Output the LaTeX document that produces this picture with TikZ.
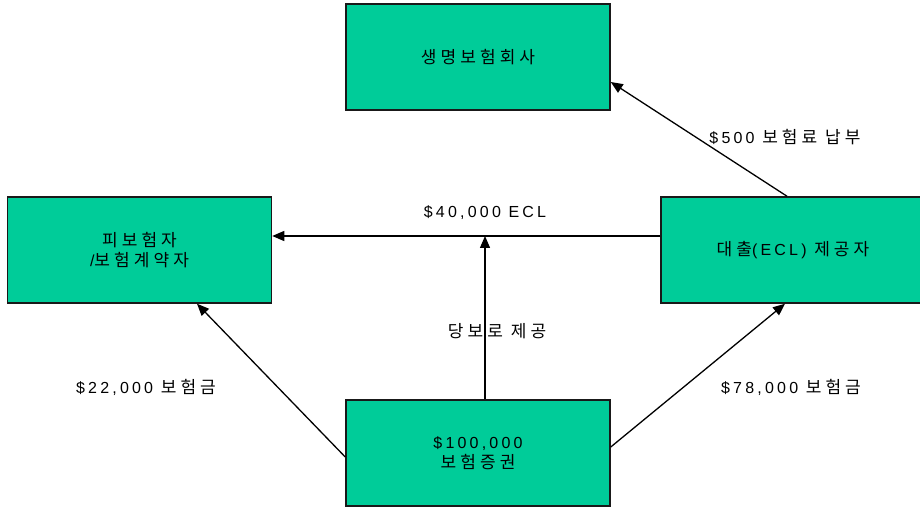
\documentclass[tikz,border=0pt]{standalone}
\usepackage{fontspec}
\setmainfont{Liberation Sans}[LetterSpace=20]
\newfontfamily\krfam{Noto Sans CJK KR}[LetterSpace=24]
% Hangul run, set a little larger than the Latin text
\newcommand{\hg}[1]{{\krfam\fontsize{17pt}{20pt}\selectfont #1}}
\usetikzlibrary{arrows.meta}
\definecolor{boxgreen}{RGB}{0,204,153}
\definecolor{boxline}{RGB}{25,25,25}
\tikzset{
  party/.style={draw=boxline, line width=1.5pt, fill=boxgreen,
    minimum width=264pt, minimum height=106pt, inner sep=0pt,
    align=center, font=\fontsize{16pt}{20pt}\selectfont},
  flow/.style={line width=1.3pt, -{Triangle[length=12pt,width=10pt]}},
  tag/.style={font=\fontsize{16pt}{20pt}\selectfont, inner sep=0pt}
}
\begin{document}
\begin{tikzpicture}[x=1pt,y=1pt]
  \useasboundingbox (0,0) rectangle (920,508);
  \fill[white] (0,0) rectangle (920,508);
  \clip (0,0) rectangle (920,508);

  % parties
  \node[party] (life)    at (478,451)   {\hg{생명보험회사}};
  \node[party] (insured) at (139.5,258) {\hg{피보험자}\\/\hg{보험계약자}};
  \node[party] (lender)  at (793,258)   {\hg{대출}(ECL) \hg{제공자}};
  \node[party] (policy)  at (478,55)    {\$100,000\\\hg{보험증권}};

  \coordinate (join) at (485,272);

  % flows
  \draw[flow] ([xshift=-6pt]lender.north) -- ([yshift=-25pt]life.east);
  \draw[flow] ([yshift=14pt]lender.west) -- ([yshift=14pt]insured.east);
  \draw[flow] ([xshift=7pt]policy.north) -- (join);
  \draw[flow] ([yshift=-4pt]policy.west) -- ([xshift=57.5pt]insured.south);
  \draw[flow] ([yshift=6pt]policy.east) -- ([xshift=-8pt]lender.south);

  % flow labels
  \node[tag] (lpremium) at (785,371) {\$500 \hg{보험료 납부}};
  \node[tag] (lloan)    at (485,295) {\$40,000 ECL};
  \node[tag] (lpledge)  at (497,177) {\hg{당보로 제공}};
  \node[tag] (lleft)    at (146,121) {\$22,000 \hg{보험금}};
  \node[tag] (lright)   at (791,121) {\$78,000 \hg{보험금}};
\end{tikzpicture}
\end{document}
